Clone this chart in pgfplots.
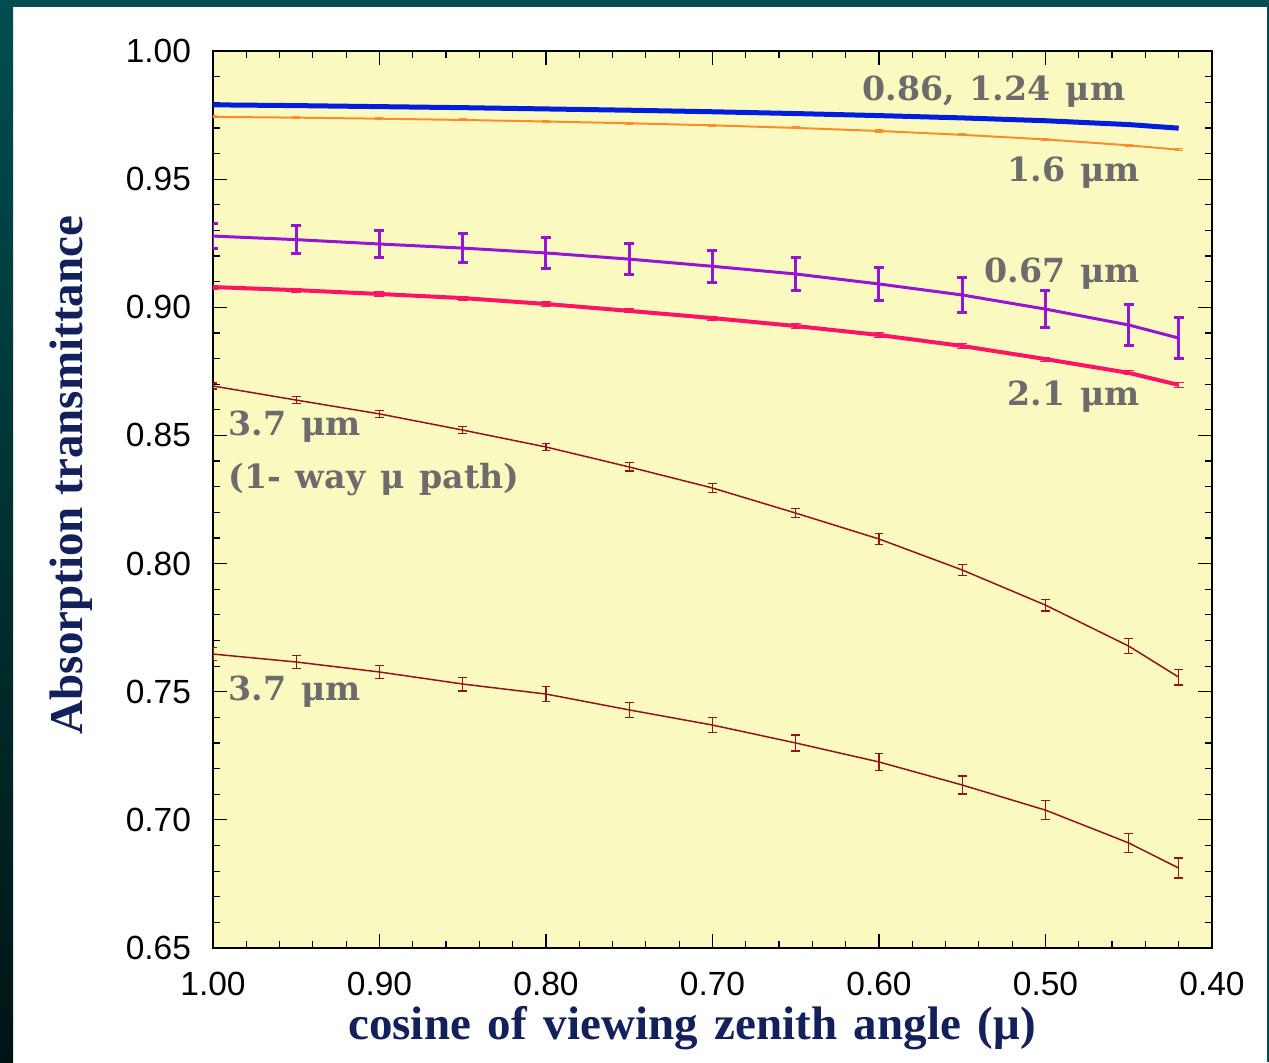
\documentclass[border=0pt]{standalone}
\usepackage{pgfplots}
\pgfplotsset{compat=1.18}
\usepackage{fontspec}
\setmainfont{Liberation Sans}
\newfontfamily\titlefont{Liberation Serif}
\newfontfamily\grayfont{DejaVu Serif}[WordSpace=1.3]
\definecolor{plotbg}{RGB}{250,250,192}
\definecolor{tealtop}{RGB}{0,78,80}
\definecolor{tealmid}{RGB}{0,118,116}
\definecolor{tealbot}{RGB}{0,20,20}
\definecolor{navy}{RGB}{18,32,92}
\definecolor{lblgray}{RGB}{108,108,108}
\definecolor{cblue}{RGB}{0,30,220}
\definecolor{corange}{RGB}{255,140,40}
\definecolor{cpurple}{RGB}{150,20,210}
\definecolor{cpink}{RGB}{255,20,100}
\definecolor{cbrown}{RGB}{150,20,20}
\newcommand{\ws}{\hspace{2.5pt} }
\begin{document}
\begin{tikzpicture}
\begin{scope}[x=0.5pt,y=-0.5pt]
\fill[white] (0,0) rectangle (1269,1062);
\shade[top color=tealtop, middle color=tealmid, bottom color=tealbot] (0,0) rectangle (13,1062);
\fill[tealtop] (0,0) rectangle (1269,7);
\fill[tealtop] (1267,0) rectangle (1269,1062);
\end{scope}
\begin{axis}[
  width=499.5pt, height=448.5pt, scale only axis,
  at={(106.5pt,-474pt)}, anchor=south west,
  xmin=0.4, xmax=1.0, ymin=0.65, ymax=1.0, x dir=reverse,
  xtick={0.4,0.5,0.6,0.7,0.8,0.9,1.0}, minor x tick num=4,
  ytick={0.65,0.70,0.75,0.80,0.85,0.90,0.95,1.00}, minor y tick num=4,
  tick align=inside, major tick length=7pt, minor tick length=3.5pt,
  every tick/.style={black, line width=0.6pt},
  axis line style={line width=0.75pt},
  axis background/.style={fill=plotbg},
  tick label style={font=\fontsize{16.75}{18}\selectfont, inner sep=0pt},
  xticklabel shift=12pt, yticklabel shift=10.8pt,
  /pgf/number format/.cd, fixed, fixed zerofill, precision=2, assume math mode=true,
]
% 0.86, 1.24 um (blue)
\addplot[color=cblue, line width=2.5pt] table[x=x,y=y] {
x y
1.00 0.9790
0.95 0.9787
0.90 0.9783
0.85 0.9779
0.80 0.9774
0.75 0.9769
0.70 0.9763
0.65 0.9756
0.60 0.9748
0.55 0.9739
0.50 0.9728
0.45 0.9713
0.42 0.9699
};
% 1.6 um (orange)
\addplot[color=corange, line width=1pt, error bars/.cd, y dir=both, y explicit,
  error bar style={line width=0.5pt}, error mark options={rotate=90, mark size=2pt, line width=0.5pt}] table[x=x,y=y,y error=e] {
x y e
1.00 0.9743 0.0004
0.95 0.9740 0.0004
0.90 0.9736 0.0004
0.85 0.9731 0.0004
0.80 0.9725 0.0004
0.75 0.9718 0.0004
0.70 0.9710 0.0004
0.65 0.9700 0.0004
0.60 0.9688 0.0004
0.55 0.9673 0.0004
0.50 0.9655 0.0004
0.45 0.9632 0.0004
0.42 0.9615 0.0004
};
% 0.67 um (purple)
\addplot[color=cpurple, line width=1.5pt, error bars/.cd, y dir=both, y explicit,
  error bar style={line width=1.5pt}, error mark options={rotate=90, mark size=2.5pt, line width=1.5pt}] table[x=x,y=y,y error=e] {
x y e
1.00 0.9278 0.0050
0.95 0.9264 0.0056
0.90 0.9247 0.0054
0.85 0.9231 0.0058
0.80 0.9212 0.0059
0.75 0.9188 0.0060
0.70 0.9160 0.0062
0.65 0.9130 0.0064
0.60 0.9091 0.0066
0.55 0.9048 0.0070
0.50 0.8993 0.0072
0.45 0.8931 0.0080
0.42 0.8880 0.0080
};
% 2.1 um (pink)
\addplot[color=cpink, line width=2pt, error bars/.cd, y dir=both, y explicit,
  error bar style={line width=0.5pt}, error mark options={rotate=90, mark size=2.5pt, line width=0.5pt}] table[x=x,y=y,y error=e] {
x y e
1.00 0.9079 0.0008
0.95 0.9067 0.0008
0.90 0.9052 0.0008
0.85 0.9036 0.0008
0.80 0.9013 0.0008
0.75 0.8986 0.0008
0.70 0.8958 0.0008
0.65 0.8927 0.0008
0.60 0.8892 0.0008
0.55 0.8849 0.0008
0.50 0.8798 0.0008
0.45 0.8744 0.0008
0.42 0.8697 0.0008
};
% 3.7 um 1-way (brown)
\addplot[color=cbrown, line width=0.75pt, error bars/.cd, y dir=both, y explicit,
  error bar style={line width=0.6pt}, error mark options={rotate=90, mark size=2.2pt, line width=0.6pt}] table[x=x,y=y,y error=e] {
x y e
1.00 0.8693 0.0012
0.95 0.8638 0.0013
0.90 0.8584 0.0013
0.85 0.8521 0.0014
0.80 0.8455 0.0015
0.75 0.8377 0.0016
0.70 0.8295 0.0017
0.65 0.8197 0.0018
0.60 0.8096 0.0020
0.55 0.7975 0.0021
0.50 0.7838 0.0023
0.45 0.7678 0.0029
0.42 0.7557 0.0031
};
% 3.7 um (brown)
\addplot[color=cbrown, line width=0.75pt, error bars/.cd, y dir=both, y explicit,
  error bar style={line width=0.6pt}, error mark options={rotate=90, mark size=2.2pt, line width=0.6pt}] table[x=x,y=y,y error=e] {
x y e
1.00 0.7647 0.0025
0.95 0.7616 0.0026
0.90 0.7577 0.0026
0.85 0.7530 0.0027
0.80 0.7491 0.0028
0.75 0.7429 0.0029
0.70 0.7370 0.0030
0.65 0.7300 0.0031
0.60 0.7226 0.0033
0.55 0.7136 0.0035
0.50 0.7038 0.0037
0.45 0.6910 0.0038
0.42 0.6812 0.0039
};
\begin{scope}[every node/.style={text=lblgray, font=\grayfont\bfseries\fontsize{16.6}{20}\selectfont, inner sep=0pt}]
\node[anchor=base west] at (axis cs:0.6102,0.98088) {0.86, 1.24 μm};
\node[anchor=base east] at (axis cs:0.4432,0.94928) {1.6 μm};
\node[anchor=base east] at (axis cs:0.4432,0.90987) {0.67 μm};
\node[anchor=base east] at (axis cs:0.4432,0.86187) {2.1 μm};
\node[anchor=base west] at (axis cs:0.991,0.85017) {3.7 μm};
\node[anchor=base west] at (axis cs:0.991,0.82949) {(1- way μ path)};
\node[anchor=base west] at (axis cs:0.991,0.74677) {3.7 μm};
\end{scope}
\end{axis}
\begin{scope}[x=0.5pt,y=-0.5pt]
\node[anchor=base, inner sep=0pt, text=navy, font=\titlefont\bfseries\fontsize{23.5}{26}\selectfont] at (692,1039) {cosine\ws of\ws viewing\ws zenith\ws angle\ws (μ)};
\node[anchor=base, rotate=90, inner sep=0pt, text=navy, font=\titlefont\bfseries\fontsize{23.5}{26}\selectfont] at (82,475) {Absorption transmittance};
\end{scope}
\pgfresetboundingbox
\path[use as bounding box] (0,0) rectangle (634.5pt,-531pt);
\end{tikzpicture}
\end{document}
